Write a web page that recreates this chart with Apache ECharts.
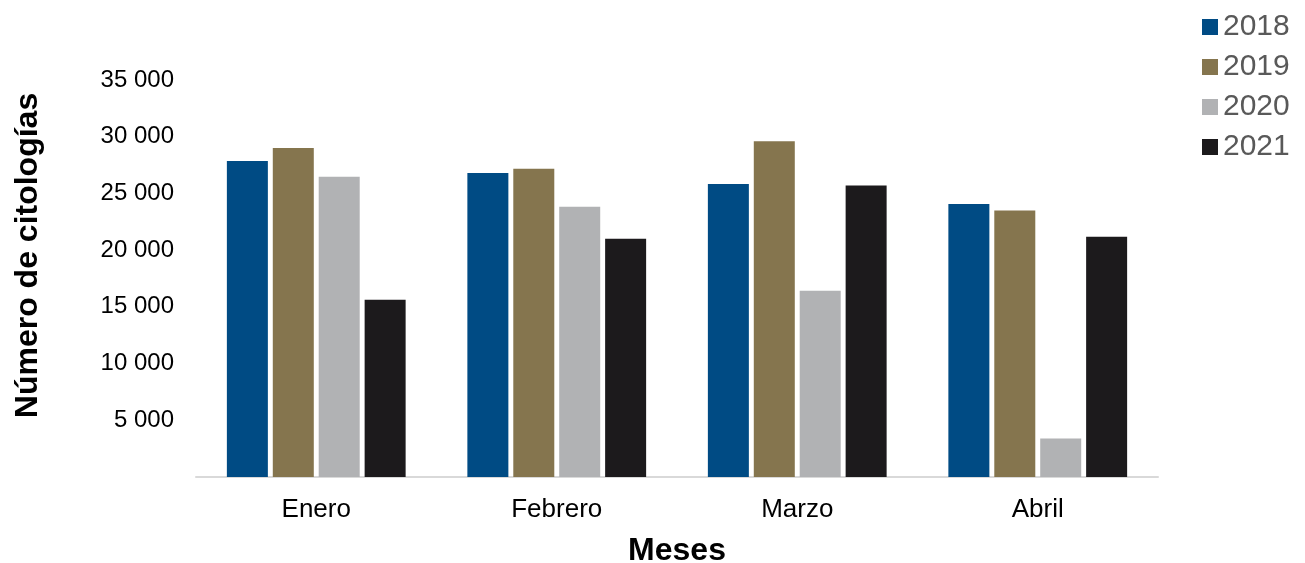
<!DOCTYPE html>
<html>
<head>
<meta charset="utf-8">
<script src="https://cdn.jsdelivr.net/npm/echarts@6/dist/echarts.min.js"></script>
<style>
html,body{margin:0;padding:0;background:#fff;}
#c{width:1305px;height:563px;}
</style>
</head>
<body>
<div id="c"></div>
<script>
const categories = ['Enero', 'Febrero', 'Marzo', 'Abril'];
const seriesNames = ['2018', '2019', '2020', '2021'];
const v2018 = [27860, 26800, 25830, 24060];
const v2019 = [29000, 27180, 29600, 23500];
const v2020 = [26470, 23820, 16410, 3390];
const v2021 = [15620, 21000, 25710, 21180];
const colors = ['#004B84', '#85754E', '#B1B2B4', '#1C1A1C'];

const seriesValues = [v2018, v2019, v2020, v2021];
const font = 'Liberation Sans, Arial, sans-serif';

const chart = echarts.init(document.getElementById('c'), null, {renderer: 'canvas'});
chart.setOption({
  animation: false,
  textStyle: {fontFamily: font},
  color: colors,
  grid: {left: 196, right: 147, top: 80, bottom: 86, containLabel: false, outerBoundsMode: 'none'},
  legend: {
    orient: 'vertical',
    left: 1197,
    top: 7,
    itemWidth: 16,
    itemHeight: 16,
    itemGap: 10,
    icon: 'rect',
    data: seriesNames,
    textStyle: {fontSize: 30, color: '#595959', fontFamily: font, padding: [0, 0, 0, 0], lineHeight: 30}
  },
  xAxis: {
    type: 'category',
    data: categories,
    axisLine: {show: true, lineStyle: {color: '#D9D9D9', width: 2}},
    axisTick: {show: false},
    axisLabel: {fontSize: 26, color: '#000', margin: 20, fontFamily: font},
    name: 'Meses',
    nameLocation: 'middle',
    nameGap: 58,
    nameTextStyle: {fontSize: 32, fontWeight: 'bold', color: '#000', fontFamily: font}
  },
  yAxis: {
    type: 'value',
    min: 0,
    max: 35000,
    interval: 5000,
    splitLine: {show: false},
    axisLine: {show: false},
    axisTick: {show: false},
    axisLabel: {
      fontSize: 24, color: '#000', margin: 22, fontFamily: font,
      formatter: v => (v === 0 ? '' : String(v).replace(/\B(?=(\d{3})+(?!\d))/g, ' '))
    },
    name: 'Número de citologías',
    nameLocation: 'middle',
    nameGap: 152,
    nameTextStyle: {fontSize: 32, fontWeight: 'bold', color: '#000', fontFamily: font, padding: [0, 0, 0, 46]}
  },
  series: seriesNames.map((n, i) => ({
    name: n,
    type: 'bar',
    data: seriesValues[i],
    barWidth: 41,
    barGap: '12%',
    itemStyle: {color: colors[i]}
  }))
});
</script>
</body>
</html>
